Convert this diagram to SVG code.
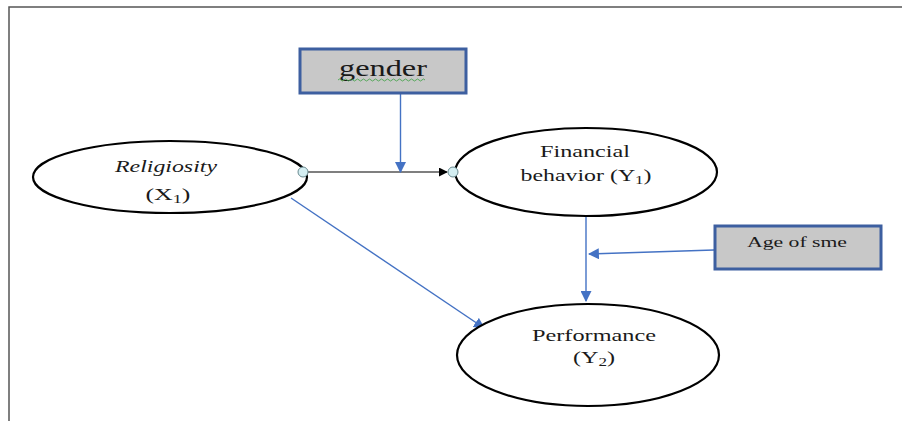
<svg xmlns="http://www.w3.org/2000/svg" width="902" height="421" viewBox="0 0 902 421">
<style>
.node{fill:#fff;stroke:#000;stroke-width:2.2}
.box{fill:#c8c8c8;stroke:#3d5fa0;stroke-width:3}
.t{font-family:"Liberation Serif","Times New Roman",serif;fill:#1a1a1a;text-anchor:middle}
.blue{stroke:#4472c4;stroke-width:1.4;fill:none}
.dot{fill:#d4eef2;stroke:#6a8a90;stroke-width:1}
</style>
<defs>
<marker id="ab" viewBox="0 0 10 10" refX="9" refY="5" markerWidth="11" markerHeight="11" markerUnits="userSpaceOnUse" orient="auto">
<path d="M0,0 L10,5 L0,10 z" fill="#4472c4"/>
</marker>
<marker id="ak" viewBox="0 0 10 10" refX="9" refY="5" markerWidth="9" markerHeight="9" markerUnits="userSpaceOnUse" orient="auto">
<path d="M0,0 L10,5 L0,10 z" fill="#000"/>
</marker>
</defs>
<rect width="902" height="421" fill="#fff"/>
<g id="frame" stroke="#555" stroke-width="1.5" fill="none">
<path d="M902,7 H9 V421"/>
</g>
<g id="connectors">
<line x1="308" y1="172" x2="447" y2="172" stroke="#000" stroke-width="1.2" marker-end="url(#ak)"/>
<line class="blue" x1="400.5" y1="93" x2="400.5" y2="172" marker-end="url(#ab)"/>
<line class="blue" x1="586" y1="217" x2="586" y2="301" marker-end="url(#ab)"/>
<line class="blue" x1="714" y1="250" x2="589" y2="254" marker-end="url(#ab)"/>
<line class="blue" x1="291" y1="198" x2="484" y2="328" marker-end="url(#ab)"/>
</g>
<g id="religiosity">
<ellipse class="node" cx="170" cy="177" rx="137" ry="36"/>
<text class="t" x="166" y="172" font-size="17" font-style="italic" textLength="102" lengthAdjust="spacingAndGlyphs">Religiosity</text>
<text class="t" x="168" y="200" font-size="17" textLength="45" lengthAdjust="spacingAndGlyphs">(X<tspan font-size="12" dy="3">1</tspan><tspan dy="-3">)</tspan></text>
</g>
<g id="financial">
<ellipse class="node" cx="586" cy="172" rx="131" ry="44"/>
<text class="t" x="585" y="157" font-size="17" textLength="90" lengthAdjust="spacingAndGlyphs">Financial</text>
<text class="t" x="586" y="181" font-size="17" textLength="131" lengthAdjust="spacingAndGlyphs">behavior (Y<tspan font-size="12" dy="3">1</tspan><tspan dy="-3">)</tspan></text>
</g>
<g id="performance">
<ellipse class="node" cx="588" cy="355" rx="131" ry="51"/>
<text class="t" x="594" y="341" font-size="17" textLength="124" lengthAdjust="spacingAndGlyphs">Performance</text>
<text class="t" x="594" y="363" font-size="17" textLength="42" lengthAdjust="spacingAndGlyphs">(Y<tspan font-size="12" dy="3">2</tspan><tspan dy="-3">)</tspan></text>
</g>
<g id="dots">
<circle class="dot" cx="303" cy="172" r="5"/>
<circle class="dot" cx="453" cy="172" r="5"/>
</g>
<g id="gender">
<rect class="box" x="300" y="49" width="166" height="44"/>
<text class="t" x="383" y="76" font-size="23" textLength="88" lengthAdjust="spacingAndGlyphs">gender</text>
<path d="M338,80 q1.5,-2 3,0 t3,0 t3,0 t3,0 t3,0 t3,0 t3,0 t3,0 t3,0 t3,0 t3,0 t3,0 t3,0 t3,0 t3,0 t3,0 t3,0 t3,0 t3,0 t3,0 t3,0 t3,0 t3,0 t3,0 t3,0 t3,0 t3,0 t3,0 t3,0" fill="none" stroke="#3aa040" stroke-width="0.8"/>
</g>
<g id="age">
<rect class="box" x="715" y="226" width="166" height="43"/>
<text class="t" x="797" y="247" font-size="15" textLength="100" lengthAdjust="spacingAndGlyphs">Age of sme</text>
</g>
</svg>
